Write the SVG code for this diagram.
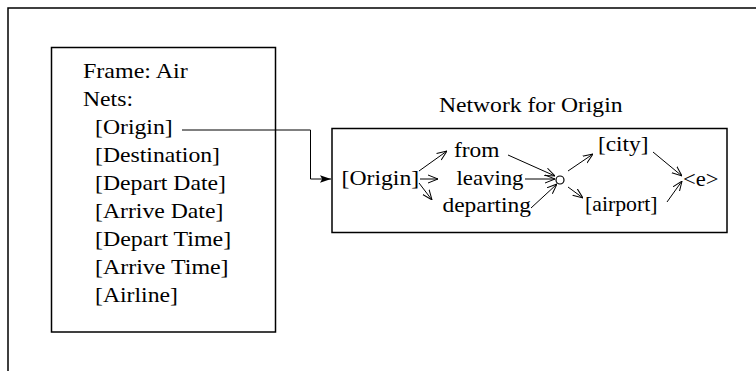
<svg xmlns="http://www.w3.org/2000/svg" width="756" height="371" viewBox="0 0 756 371">
<defs>
<style>
text{font-family:"Liberation Serif","Times New Roman",serif;font-size:21px;fill:#000}
.box{fill:none;stroke:#000;stroke-width:1.5}
.ln{fill:none;stroke:#000;stroke-width:1}
</style>
<marker id="v" viewBox="0 0 10 10" refX="10" refY="5" markerWidth="10" markerHeight="10" markerUnits="userSpaceOnUse" orient="auto">
<path d="M0,1 L10,5 L0,9" fill="none" stroke="#000" stroke-width="1"/>
</marker>
<marker id="f" viewBox="0 0 10 10" refX="10" refY="5" markerWidth="11" markerHeight="11" markerUnits="userSpaceOnUse" orient="auto">
<path d="M0,1.5 L10,5 L0,8.5 L2,5 Z" fill="#000"/>
</marker>
</defs>
<rect width="756" height="371" fill="#fff"/>
<path d="M8,371 V8 H756" class="box"/>
<g id="frame">
<rect x="51.5" y="47.5" width="224" height="284.5" class="box"/>
<text x="83" y="78" textLength="104.7" lengthAdjust="spacingAndGlyphs">Frame: Air</text>
<text x="83" y="106" textLength="50" lengthAdjust="spacingAndGlyphs">Nets:</text>
<text x="95" y="134" textLength="77.7" lengthAdjust="spacingAndGlyphs">[Origin]</text>
<text x="95" y="162" textLength="125" lengthAdjust="spacingAndGlyphs">[Destination]</text>
<text x="95" y="190" textLength="131" lengthAdjust="spacingAndGlyphs">[Depart Date]</text>
<text x="95" y="218" textLength="128.3" lengthAdjust="spacingAndGlyphs">[Arrive Date]</text>
<text x="95" y="246" textLength="136.2" lengthAdjust="spacingAndGlyphs">[Depart Time]</text>
<text x="95" y="274" textLength="133.6" lengthAdjust="spacingAndGlyphs">[Arrive Time]</text>
<text x="95" y="302" textLength="82.9" lengthAdjust="spacingAndGlyphs">[Airline]</text>
</g>
<g id="network">
<text x="439" y="112" textLength="183.5" lengthAdjust="spacingAndGlyphs">Network for Origin</text>
<rect x="332" y="128.5" width="395" height="104" class="box"/>
<text x="341.5" y="185" textLength="77.7" lengthAdjust="spacingAndGlyphs">[Origin]</text>
<text x="454" y="157" textLength="45.5" lengthAdjust="spacingAndGlyphs">from</text>
<text x="456.5" y="185" textLength="67" lengthAdjust="spacingAndGlyphs">leaving</text>
<text x="442.5" y="212" textLength="88.5" lengthAdjust="spacingAndGlyphs">departing</text>
<circle cx="560" cy="180" r="4" fill="none" stroke="#000" stroke-width="1.2"/>
<text x="598" y="151" textLength="50.5" lengthAdjust="spacingAndGlyphs">[city]</text>
<text x="585" y="211" textLength="72.5" lengthAdjust="spacingAndGlyphs">[airport]</text>
<text x="683" y="186" textLength="35.5" lengthAdjust="spacingAndGlyphs">&lt;e&gt;</text>
</g>
<g id="connectors">
<path d="M182,130 H310.5 V179 H331" class="ln" stroke-width="1.5" marker-end="url(#f)"/>
<path d="M419,171 L447,151" class="ln" marker-end="url(#v)"/>
<path d="M420,179 L438,179" class="ln" marker-end="url(#v)"/>
<path d="M419,183 L432,200" class="ln" marker-end="url(#v)"/>
<path d="M508,155 L555,176" class="ln" marker-end="url(#v)"/>
<path d="M525,179 L555,179" class="ln" marker-end="url(#v)"/>
<path d="M531,208 L557,184" class="ln" marker-end="url(#v)"/>
<path d="M568,171 L593,154" class="ln" marker-end="url(#v)"/>
<path d="M568,187 L583,198" class="ln" marker-end="url(#v)"/>
<path d="M653,152 L682,176" class="ln" marker-end="url(#v)"/>
<path d="M667,202 L682,181" class="ln" marker-end="url(#v)"/>
</g>
</svg>
